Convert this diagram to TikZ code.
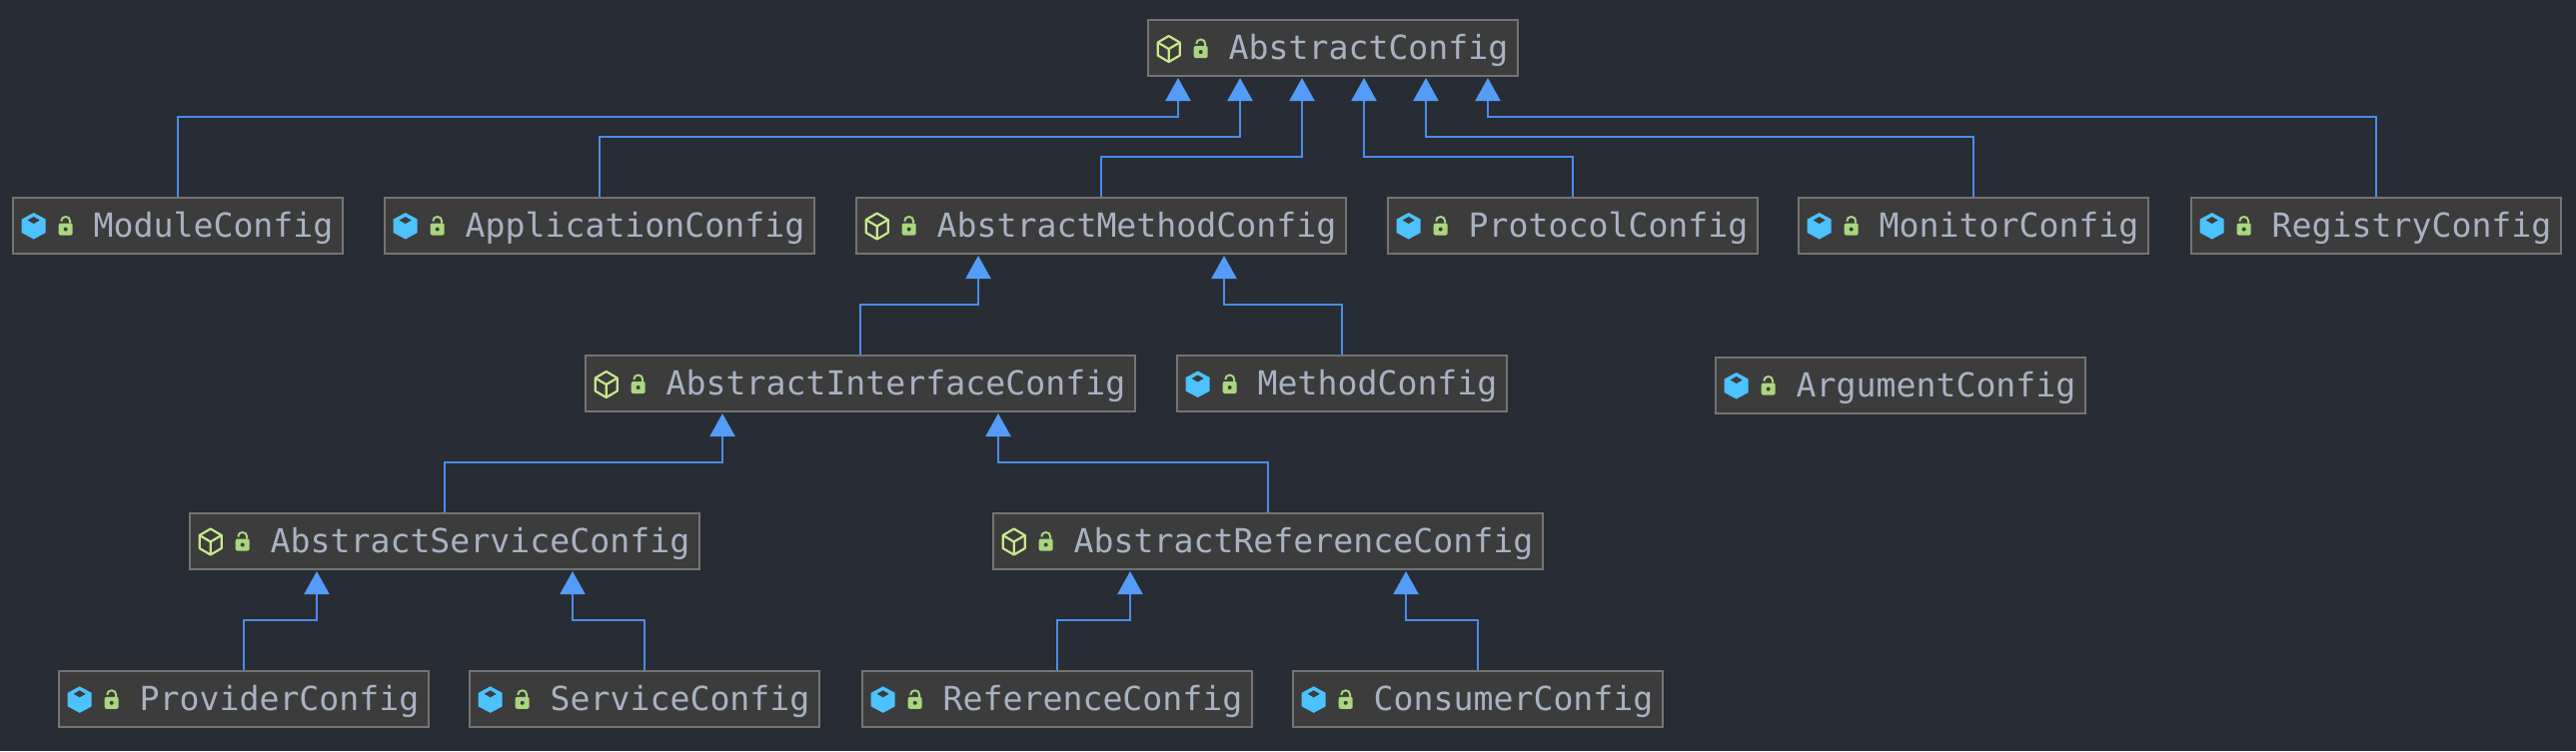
\documentclass[tikz,border=0pt]{standalone}
\usepackage{fontspec}
\setmonofont{DejaVu Sans Mono}
\usetikzlibrary{arrows.meta}

\definecolor{bgcol}{HTML}{282C34}
\definecolor{boxcol}{HTML}{3C3C3C}
\definecolor{edgecol}{HTML}{747474}
\definecolor{namecol}{HTML}{A9B2C3}
\definecolor{linecol}{HTML}{4A8EE6}
\definecolor{tipcol}{HTML}{559CF8}
\definecolor{cubecol}{HTML}{4CC2FF}
\definecolor{hollowcol}{HTML}{C9E88C}
\definecolor{lockcol}{HTML}{A9D67E}

\tikzset{
	classbox/.style={draw=edgecol,fill=boxcol,line width=1pt,anchor=west,xshift=-0.4pt,inner xsep=4.8pt,inner ysep=0pt,
		minimum height=28pt,text height=15.5pt,text depth=4pt,text=namecol,
		font=\ttfamily\fontsize{16.6}{18}\selectfont,execute at begin node={\hspace*{35.4pt}}},
	extends/.style={draw=linecol,line width=1.1pt,-{Triangle[length=11.5pt,width=12.5pt,fill=tipcol,color=tipcol]}},
	lockicon/.pic={
		\fill[lockcol,rounded corners=1pt] (46.5,-2) rectangle (60.5,10);
		\draw[lockcol,line width=1pt] (58,-2) -- (58,-4) .. controls (58,-10) and (49,-10) .. (49,-4);
		\fill[boxcol] (53.5,4) circle (2);
	},
	concreteicon/.pic={
		\fill[cubecol] (21.5,-12.5) -- (33.5,-6) -- (33.5,7.5) -- (21.5,14) -- (9.5,7.5) -- (9.5,-6) -- cycle;
		\fill[boxcol] (21.5,-8.5) -- (27.5,-5) -- (21.5,-1.5) -- (15.5,-5) -- cycle;
		\pic {lockicon};
	},
	abstracticon/.pic={
		\draw[hollowcol,line width=1.1pt,line join=round] (21.5,-12) -- (32.5,-5.5) -- (32.5,7.5) -- (21.5,14) -- (10.5,7.5) -- (10.5,-5.5) -- cycle;
		\draw[hollowcol,line width=1.1pt,line join=round] (10.5,-5.5) -- (21.5,1) -- (32.5,-5.5) (21.5,1) -- (21.5,14);
		\pic {lockicon};
	}
}

\begin{document}
\begin{tikzpicture}[x=0.5pt,y=-0.5pt]
		\useasboundingbox (0,0) rectangle (2578,752);
		\fill[bgcol] (0,0) rectangle (2578,752);

		\node[classbox] (abstract_config) at (1149,48) {AbstractConfig};

		\node[classbox] (module_config) at (13,225.5) {ModuleConfig};
		\node[classbox] (application_config) at (385,225.5) {ApplicationConfig};
		\node[classbox] (method_base) at (857,225.5) {AbstractMethodConfig};
		\node[classbox] (protocol_config) at (1389,225.5) {ProtocolConfig};
		\node[classbox] (monitor_config) at (1800,225.5) {MonitorConfig};
		\node[classbox] (registry_config) at (2193,225.5) {RegistryConfig};

		\node[classbox] (interface_base) at (586,384) {AbstractInterfaceConfig};
		\node[classbox] (method_config) at (1178,384) {MethodConfig};
		\node[classbox] (argument_config) at (1717,385.5) {ArgumentConfig};

		\node[classbox] (service_base) at (190,541.5) {AbstractServiceConfig};
		\node[classbox] (reference_base) at (994,541.5) {AbstractReferenceConfig};

		\node[classbox] (provider_config) at (59,699.8) {ProviderConfig};
		\node[classbox] (service_config) at (470,699.8) {ServiceConfig};
		\node[classbox] (reference_config) at (863,699.8) {ReferenceConfig};
		\node[classbox] (consumer_config) at (1294,699.8) {ConsumerConfig};

		\foreach \n in {abstract_config,method_base,interface_base,service_base,reference_base}
			\pic at (\n.west) {abstracticon};
		\foreach \n in {module_config,application_config,protocol_config,monitor_config,registry_config,
			method_config,argument_config,provider_config,service_config,reference_config,consumer_config}
			\pic at (\n.west) {concreteicon};

		\path (1179,78) coordinate (top_in1);
		\path (1241,78) coordinate (top_in2);
		\path (1303,78) coordinate (top_in3);
		\path (1365,78) coordinate (top_in4);
		\path (1427,78) coordinate (top_in5);
		\path (1489,78) coordinate (top_in6);
		\path (979,256) coordinate (method_in1);
		\path (1225,256) coordinate (method_in2);
		\path (723,414) coordinate (interface_in1);
		\path (999,414) coordinate (interface_in2);
		\path (317,572) coordinate (service_in1);
		\path (573,572) coordinate (service_in2);
		\path (1131,572) coordinate (reference_in1);
		\path (1407,572) coordinate (reference_in2);

		\draw[extends] (module_config.north) |- (1179,117) -- (top_in1);
		\draw[extends] (application_config.north) |- (1241,137) -- (top_in2);
		\draw[extends] (method_base.north) |- (1303,157) -- (top_in3);
		\draw[extends] (protocol_config.north) |- (1365,157) -- (top_in4);
		\draw[extends] (monitor_config.north) |- (1427,137) -- (top_in5);
		\draw[extends] (registry_config.north) |- (1489,117) -- (top_in6);

		\draw[extends] (interface_base.north) |- (979,305) -- (method_in1);
		\draw[extends] (method_config.north) |- (1225,305) -- (method_in2);

		\draw[extends] (service_base.north) |- (723,463) -- (interface_in1);
		\draw[extends] (reference_base.north) |- (999,463) -- (interface_in2);

		\draw[extends] (provider_config.north) |- (317,621) -- (service_in1);
		\draw[extends] (service_config.north) |- (573,621) -- (service_in2);
		\draw[extends] (reference_config.north) |- (1131,621) -- (reference_in1);
		\draw[extends] (consumer_config.north) |- (1407,621) -- (reference_in2);
	\end{tikzpicture}
\end{document}
